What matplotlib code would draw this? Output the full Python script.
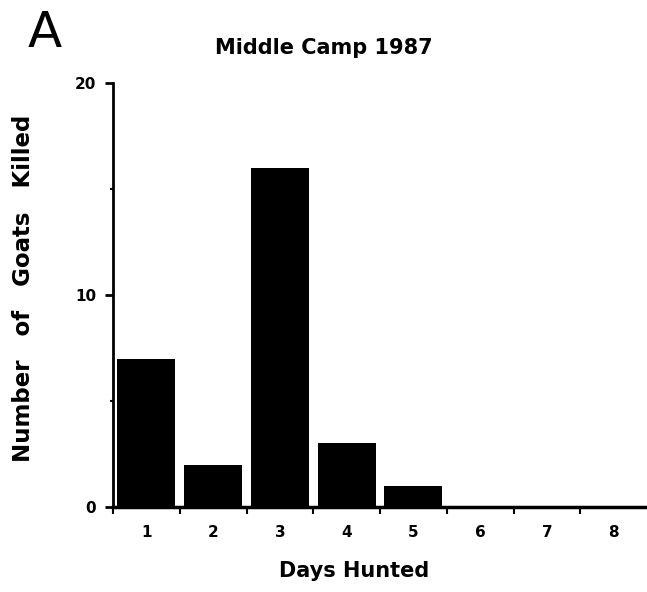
import matplotlib.pyplot as plt
import numpy as np

plt.rcParams['font.family'] = ['DejaVu Sans']

days = np.array([1, 2, 3, 4, 5, 6, 7, 8])
goats = np.array([7, 2, 16, 3, 1, 0, 0, 0])

fig = plt.figure(figsize=(6.47, 5.92), dpi=100)
ax = fig.add_axes([0.1747, 0.1436, 0.8253, 0.7162])

ax.bar(days, goats, width=0.87, color='black')

ax.set_xlim(0.5, 8.5)
ax.set_ylim(0, 20)
ax.spines['top'].set_visible(False)
ax.spines['right'].set_visible(False)
ax.spines['left'].set_linewidth(2)
ax.spines['bottom'].set_linewidth(2.5)

# x ticks sit between bars, labels under bar centres
ax.set_xticks(np.arange(0.5, 8.5, 1))
ax.set_xticklabels([])
ax.set_xticks(days, minor=True)
ax.set_xticklabels([str(d) for d in days], minor=True, fontweight='bold', fontsize=11)
ax.tick_params(axis='x', which='major', length=5, width=1.5, direction='out')
ax.tick_params(axis='x', which='minor', length=0, pad=13)

ax.set_yticks([0, 10, 20])
ax.set_yticklabels(['0', '10', '20'], fontweight='bold', fontsize=11)
ax.set_yticks([5, 15], minor=True)
ax.tick_params(axis='y', which='major', length=6, width=2, pad=6)
ax.tick_params(axis='y', which='minor', length=2, width=1.5)

fig.text(0.547, 0.0355, 'Days Hunted', fontweight='bold', fontsize=15,
         ha='center', va='center')
fig.text(0.037, 0.5135, 'Number   of   Goats   Killed', fontweight='bold',
         fontsize=16.5, rotation=90, ha='center', va='center')
fig.text(0.5, 0.919, 'Middle Camp 1987', fontweight='bold', fontsize=15,
         ha='center', va='center')

fig.text(0.0695, 0.9206, 'A', fontsize=36, ha='center', va='baseline')

fig.savefig('out.png', dpi=100)
